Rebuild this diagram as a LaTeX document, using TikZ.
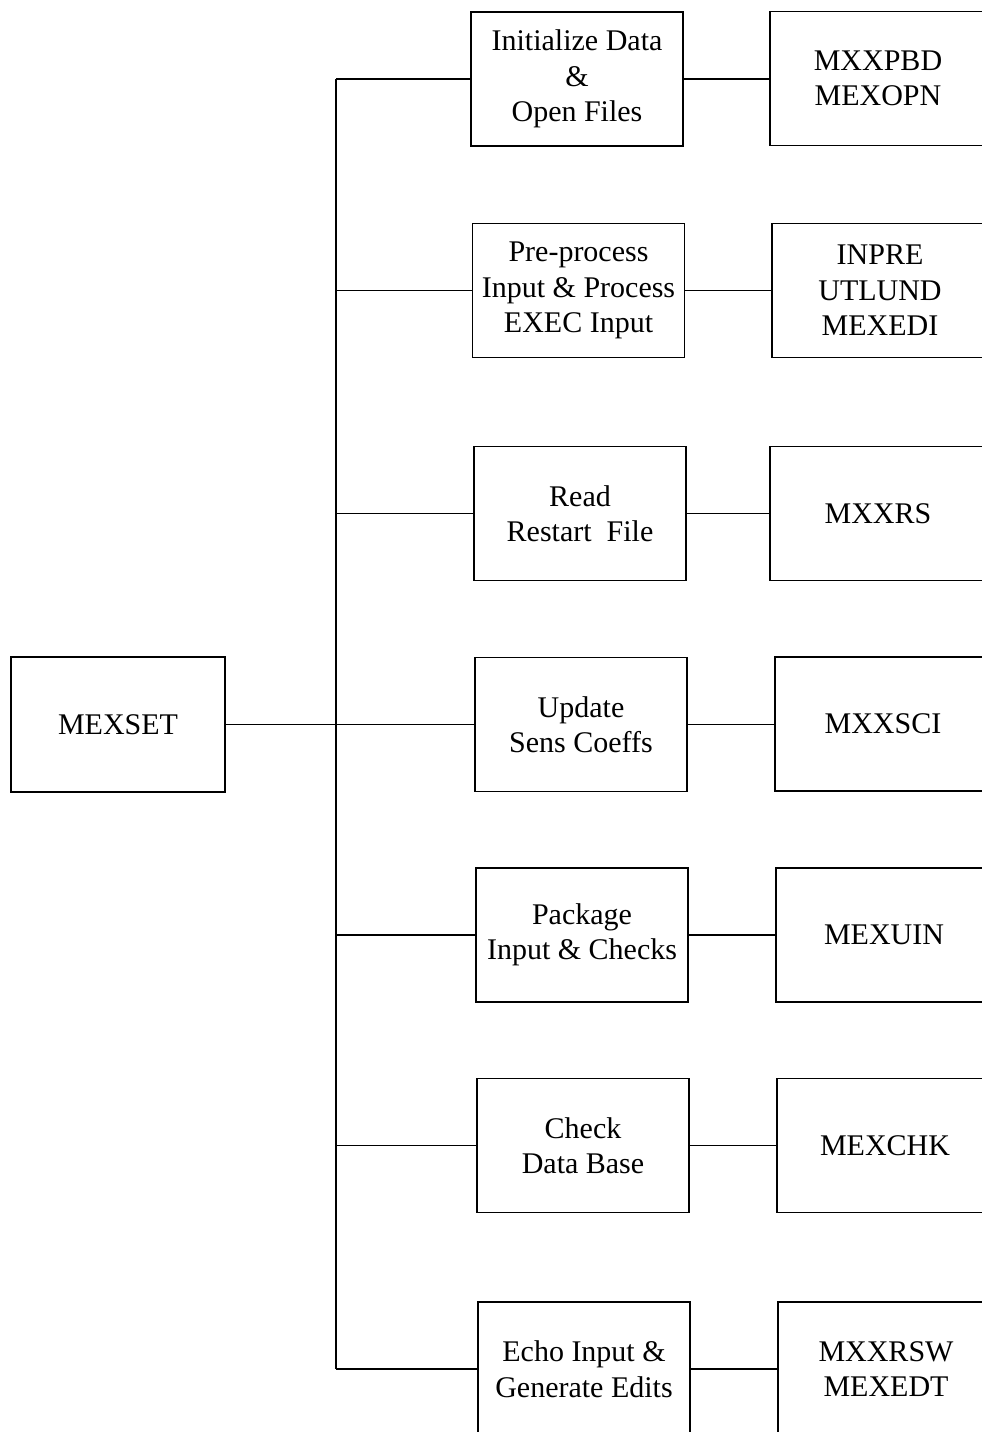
\documentclass[tikz,border=0pt]{standalone}
\usepackage{fontspec}
\setmainfont{Liberation Serif}
\begin{document}
\begin{tikzpicture}[x=1pt,y=-1pt,
  line width=1.6pt,
  box/.style={draw, rectangle, inner sep=0pt, align=center,
    minimum width=212pt, minimum height=134pt,
    font=\fontsize{30}{35.5}\selectfont},
  sub/.style={box, minimum width=216pt},
  link/.style={line width=1.4pt}]
\useasboundingbox (0,0) rectangle (982,1432);
\clip (0,0) rectangle (982,1432);

% root routine
\node[box, minimum width=214pt, minimum height=135pt] (m) at (118,724.5) {MEXSET};

% task boxes
\node[box] (a1) at (577,79)     {Initialize Data\\\&\\Open Files};
\node[box] (a2) at (578.5,290.5){Pre-process\\Input \& Process\\EXEC Input};
\node[box] (a3) at (580,513.5)  {Read\\Restart~ File};
\node[box] (a4) at (581,724.5)  {Update\\Sens Coeffs};
\node[box] (a5) at (582,935)    {Package\\Input \& Checks};
\node[box] (a6) at (583,1145.5) {Check\\Data Base};
\node[box] (a7) at (584,1369)   {Echo Input \&\\Generate Edits};

% called routines (right edges run past the frame)
\node[sub] (b1) at (878,78.5)   {MXXPBD\\MEXOPN};
\node[sub] (b2) at (880,290.5)  {INPRE\\UTLUND\\MEXEDI};
\node[sub] (b3) at (878,513.5)  {MXXRS};
\node[sub] (b4) at (883,724)    {MXXSCI};
\node[sub] (b5) at (884,935)    {MEXUIN};
\node[sub] (b6) at (885,1145.5) {MEXCHK};
\node[sub] (b7) at (886,1369)   {MXXRSW\\MEXEDT};

% trunk
\coordinate (top) at (336,79);
\coordinate (bot) at (336,1369);
\draw[link] (top) -- (bot);
\draw[link] (m.east) -- (a4.west);

% branches
\foreach \i in {1,2,3,5,6,7}{
  \draw[link] (a\i.west -| top) -- (a\i.west);
}
\foreach \i in {1,...,7}{
  \draw[link] (a\i.east) -- (a\i.east -| b\i.west);
}
\end{tikzpicture}
\end{document}
